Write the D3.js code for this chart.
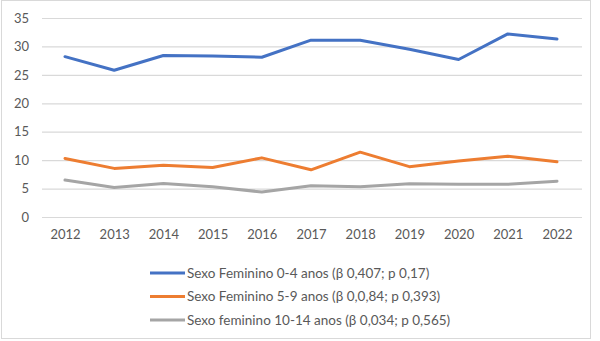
<!DOCTYPE html>
<html><head><meta charset="utf-8">
<script src="https://cdn.jsdelivr.net/npm/d3@7"></script>
<style>body{margin:0;background:#fff;}svg{display:block;}</style>
</head><body>
<script>
const years = [2012,2013,2014,2015,2016,2017,2018,2019,2020,2021,2022];
const fem04 = [28.2,25.8,28.4,28.3,28.1,31.1,31.1,29.5,27.7,32.2,31.3];
const fem59 = [10.3,8.55,9.1,8.7,10.4,8.3,11.4,8.85,9.85,10.7,9.7];
const fem1014 = [6.5,5.2,5.9,5.3,4.4,5.5,5.3,5.85,5.75,5.75,6.3];
const seriesNames = [
  "Sexo Feminino 0-4 anos (β 0,407; p 0,17)",
  "Sexo Feminino 5-9 anos (β 0,0,84; p 0,393)",
  "Sexo feminino 10-14 anos (β 0,034; p 0,565)"
];
const colors = ["#4472C4","#ED7D31","#A5A5A5"];
const yTicks = [0,5,10,15,20,25,30,35];

const W=600,H=341;
const svg=d3.select("body").append("svg").attr("width",W).attr("height",H);
svg.append("rect").attr("x",1.5).attr("y",0.5).attr("width",589).attr("height",338)
  .attr("fill","#fff").attr("stroke","#d9d9d9");

const x=d3.scalePoint().domain(years).range([65,557]);
const y=d3.scaleLinear().domain([0,35]).range([217,18]);
const font="Lato, 'Open Sans', sans-serif";

const ga=svg.append("g").attr("transform","translate(42,0)")
  .call(d3.axisLeft(y).tickValues(yTicks).tickSize(-540).tickPadding(13));
ga.select(".domain").remove();
ga.selectAll(".tick line").attr("stroke","#d9d9d9").attr("stroke-width",1.2);
ga.selectAll(".tick text").attr("fill","#595959").style("font-family",font).style("font-size","13px");

const gx=svg.append("g").attr("transform","translate(0,217)")
  .call(d3.axisBottom(x).tickSize(0).tickPadding(13));
gx.select(".domain").remove();
gx.selectAll(".tick text").attr("fill","#595959").style("font-family",font).style("font-size","13px");

const data=[fem04,fem59,fem1014];
const line=d3.line().x((d,i)=>x(years[i])).y(d=>y(d));
data.forEach((s,k)=>{
  svg.append("path").datum(s).attr("d",line).attr("fill","none")
    .attr("stroke",colors[k]).attr("stroke-width",3).attr("stroke-linejoin","round").attr("stroke-linecap","round");
});

const lg=svg.append("g");
seriesNames.forEach((n,k)=>{
  const yy=273+k*23.5;
  lg.append("line").attr("x1",150).attr("x2",185).attr("y1",yy).attr("y2",yy)
    .attr("stroke",colors[k]).attr("stroke-width",3);
  lg.append("text").attr("x",187).attr("y",yy).attr("dy","0.35em")
    .attr("fill","#595959").style("font-family",font).style("font-size","13.5px").text(n);
});
</script>
</body></html>
